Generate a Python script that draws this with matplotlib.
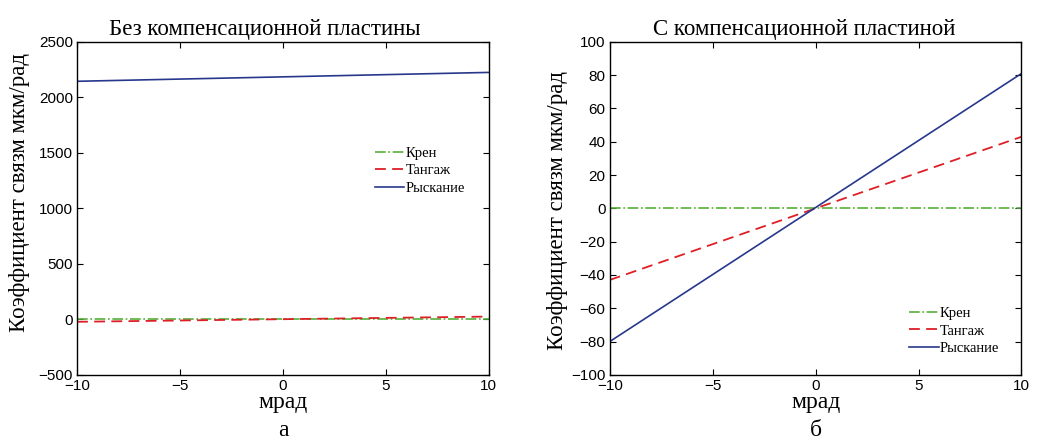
import numpy as np
import matplotlib.pyplot as plt

x = [-10, 10]

# без компенсационной пластины
kren_a = [0, 0]
tangazh_a = [-22, 25]
ryskanie_a = [2145, 2225]

# с компенсационной пластиной
kren_b = [0, 0]
tangazh_b = [-43, 43]
ryskanie_b = [-80, 81]

serif = ['Liberation Serif', 'DejaVu Serif']
sans = ['Liberation Sans', 'DejaVu Sans']

green = '#55b03a'
red = '#dd1f26'
blue = '#27388c'

fig = plt.figure(figsize=(10.37, 4.41), dpi=100)
ax1 = fig.add_axes([0.0743, 0.150, 0.397, 0.755])
ax2 = fig.add_axes([0.588, 0.150, 0.397, 0.755])

panels = [
    (ax1, kren_a, tangazh_a, ryskanie_a, 'Без компенсационной пластины',
     (-500, 2500), np.arange(-500, 2501, 500), (0.723, 0.613), 'а',
     0.456, (-0.114, 0.547)),
    (ax2, kren_b, tangazh_b, ryskanie_b, 'С компенсационной пластиной',
     (-100, 100), np.arange(-100, 101, 20), (0.728, 0.132), 'б',
     0.473, (-0.102, 0.495)),
]

for ax, kr, tg, rs, title, ylim, yt, legpos, letter, tx, ylc in panels:
    ax.plot(x, kr, color=green, ls='-.', lw=1.2, label='Крен')
    ax.plot(x, tg, color=red, ls=(0, (6, 3.5)), lw=1.3, label='Тангаж')
    ax.plot(x, rs, color=blue, ls='-', lw=1.2, label='Рыскание')
    ax.set_xlim(-10, 10)
    ax.set_ylim(*ylim)
    ax.set_xticks([-10, -5, 0, 5, 10])
    ax.set_yticks(yt)
    ax.set_xticklabels(['\u221210', '\u22125', '0', '5', '10'])
    ax.set_yticklabels([str(v).replace('-', '\u2212') for v in yt])
    ax.tick_params(direction='in', top=True, right=True, length=4, width=0.8,
                   labelsize=11, pad=3)
    for lab in ax.get_xticklabels() + ax.get_yticklabels():
        lab.set_family(sans)
    for s in ax.spines.values():
        s.set_linewidth(1.0)
    ax.set_title(title, family=serif, fontsize=16.5, pad=5, x=tx)
    ax.set_xlabel('мрад', family=serif, fontsize=17, labelpad=-1)
    ax.set_ylabel('Коэффициент связм мкм/рад', family=serif, fontsize=16.5)
    ax.yaxis.set_label_coords(*ylc)
    ax.legend(loc='center left', bbox_to_anchor=legpos, frameon=False,
              prop={'family': serif, 'size': 10.5}, handlelength=2.0,
              handletextpad=0.1, labelspacing=0.3, borderaxespad=0,
              borderpad=0)
    pos = ax.get_position()
    fig.text((pos.x0 + pos.x1) / 2, 0.0, letter, ha='center', va='bottom',
             family=serif, fontsize=17)

fig.savefig('out.png', dpi=100)
